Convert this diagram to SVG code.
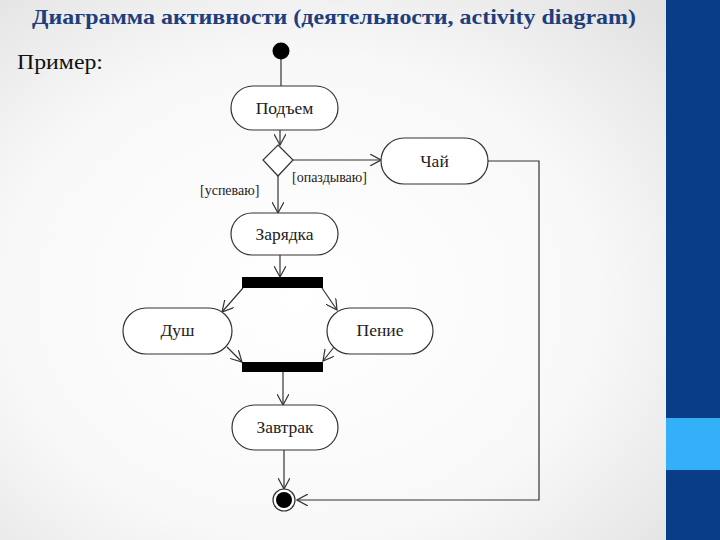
<svg xmlns="http://www.w3.org/2000/svg" width="720" height="540" viewBox="0 0 720 540">
<defs>
<radialGradient id="bg" cx="0.45" cy="0.55" r="0.75">
<stop offset="0" stop-color="#ffffff"/>
<stop offset="0.6" stop-color="#f8f8f8"/>
<stop offset="1" stop-color="#e2e2e2"/>
</radialGradient>
<marker id="arr" viewBox="0 0 12 12" refX="11" refY="6" markerWidth="12" markerHeight="12" markerUnits="userSpaceOnUse" orient="auto">
<path d="M0,0 L11,6 L0,12" fill="none" stroke="#333" stroke-width="1.2"/>
</marker>
<style>
text{font-family:"Liberation Serif","DejaVu Serif",serif}
.title{font-weight:bold;font-size:22px;fill:#1F3E7C}
.sub{font-size:21px;fill:#111}
.node rect{fill:#fff;stroke:#333;stroke-width:1.2}
.lbl{font-size:17.5px;fill:#222;text-anchor:middle}
.grd{font-size:14px;fill:#222}
.edge{fill:none;stroke:#333;stroke-width:1.2}
.bar{fill:#000}
</style>
</defs>
<rect x="0" y="0" width="666" height="540" fill="url(#bg)"/>
<rect x="666" y="0" width="54" height="540" fill="#0A3D88"/>
<rect x="666" y="418" width="54" height="52" fill="#33B0F8"/>
<text class="title" font-family="Liberation Serif, serif" x="32" y="24" textLength="604" lengthAdjust="spacingAndGlyphs">Диаграмма активности (деятельности, activity diagram)</text>
<text class="sub" font-family="Liberation Serif, serif" x="17" y="69" textLength="86" lengthAdjust="spacingAndGlyphs">Пример:</text>

<g id="connectors">
<path class="edge" d="M281,59 L281,86"/>
<path class="edge" d="M280,130 L280,145" marker-end="url(#arr)"/>
<path class="edge" d="M293,160 L381,160" marker-end="url(#arr)"/>
<path class="edge" d="M278,176 L278,213" marker-end="url(#arr)"/>
<path class="edge" d="M280,255 L280,277" marker-end="url(#arr)"/>
<path class="edge" d="M243,288 L222,312" marker-end="url(#arr)"/>
<path class="edge" d="M322,288 L337,310" marker-end="url(#arr)"/>
<path class="edge" d="M227,347 L242,362" marker-end="url(#arr)"/>
<path class="edge" d="M334,347 L323,361" marker-end="url(#arr)"/>
<path class="edge" d="M283,372 L283,405" marker-end="url(#arr)"/>
<path class="edge" d="M284,450 L284,489" marker-end="url(#arr)"/>
<path class="edge" d="M488,161 L539,161 L539,500 L297,500" marker-end="url(#arr)"/>
<text class="grd" font-family="Liberation Serif, serif" x="292" y="182">[опаздываю]</text>
<text class="grd" font-family="Liberation Serif, serif" x="200" y="195">[успеваю]</text>
</g>

<g id="start"><circle cx="281" cy="51" r="8.5" fill="#000"/></g>
<g id="podem" class="node"><rect x="231" y="86" width="107" height="44" rx="22" ry="22"/><text class="lbl" font-family="Liberation Serif, serif" x="284.5" y="114">Подъем</text></g>
<g id="decision"><path d="M278,145 L293,160 L278,176 L263,160 Z" fill="#fff" stroke="#333" stroke-width="1.2"/></g>
<g id="chai" class="node"><rect x="381" y="138" width="107" height="46" rx="23" ry="23"/><text class="lbl" font-family="Liberation Serif, serif" x="434.5" y="167">Чай</text></g>
<g id="zaryadka" class="node"><rect x="231" y="213" width="107" height="42" rx="21" ry="21"/><text class="lbl" font-family="Liberation Serif, serif" x="284.5" y="240">Зарядка</text></g>
<g id="fork"><rect class="bar" x="242" y="277" width="81" height="11"/></g>
<g id="dush" class="node"><rect x="123" y="308" width="109" height="46" rx="23" ry="23"/><text class="lbl" font-family="Liberation Serif, serif" x="177.5" y="336">Душ</text></g>
<g id="penie" class="node"><rect x="327" y="308" width="106" height="46" rx="23" ry="23"/><text class="lbl" font-family="Liberation Serif, serif" x="380" y="336">Пение</text></g>
<g id="join"><rect class="bar" x="242" y="362" width="81" height="10"/></g>
<g id="zavtrak" class="node"><rect x="232" y="405" width="106" height="45" rx="22.5" ry="22.5"/><text class="lbl" font-family="Liberation Serif, serif" x="285" y="433">Завтрак</text></g>
<g id="end"><circle cx="284" cy="500" r="11" fill="#fff" stroke="#333" stroke-width="1.2"/><circle cx="284" cy="500" r="8" fill="#000"/></g>
</svg>
